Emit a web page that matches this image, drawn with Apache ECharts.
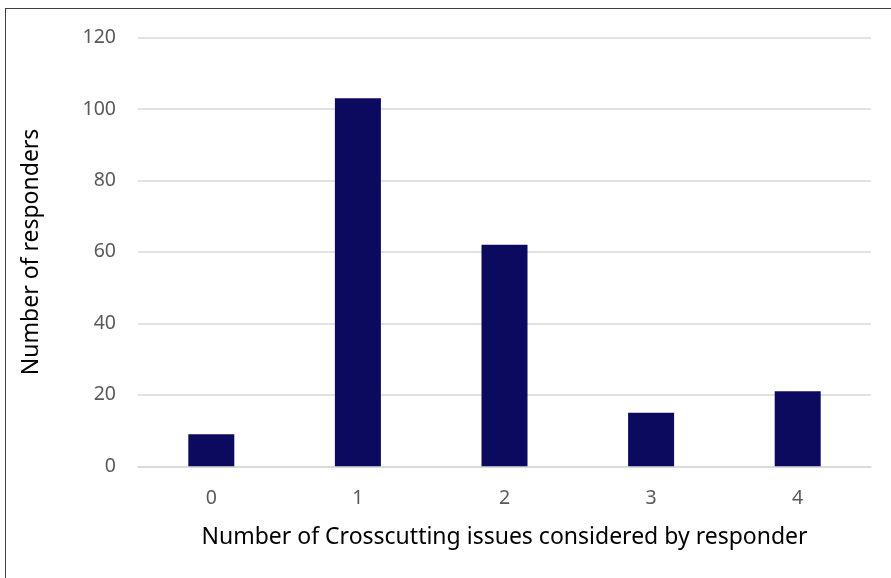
<!DOCTYPE html>
<html>
<head>
<meta charset="utf-8">
<script src="https://cdn.jsdelivr.net/npm/echarts@6/dist/echarts.min.js"></script>
<style>
  html, body { margin: 0; padding: 0; background: #fff; }
  #frame {
    position: absolute; left: 5px; top: 8px; width: 886px; height: 570px;
    border-left: 1px solid #404040; border-top: 1px solid #404040;
  }
  #chart { position: absolute; left: 0; top: 0; width: 891px; height: 578px; }
</style>
</head>
<body>
<div id="frame"></div>
<div id="chart"></div>
<script>
// issues considered -> responders
const categories = ["0", "1", "2", "3", "4"];
const responders = [9, 103, 62, 15, 21];
const yTicks = { min: 0, max: 120, interval: 20 };

const chart = echarts.init(document.getElementById("chart"));

chart.setOption({
  animation: false,
  grid: { left: 138, right: 20, top: 37.5, bottom: 111.7 },
  xAxis: {
    type: "category",
    data: categories,
    name: "Number of Crosscutting issues considered by responder",
    nameLocation: "middle",
    nameGap: 60,
    nameTextStyle: { color: "#000", fontSize: 23, fontFamily: "Noto Sans" },
    axisLine: { lineStyle: { color: "#d9d9d9", width: 1.5 } },
    axisTick: { show: false },
    axisLabel: { color: "#595959", fontSize: 19.5, fontFamily: "Noto Sans", margin: 22 },
  },
  yAxis: {
    type: "value",
    min: yTicks.min,
    max: yTicks.max,
    interval: yTicks.interval,
    name: "Number of responders",
    nameLocation: "middle",
    nameGap: 95,
    nameTextStyle: { color: "#000", fontSize: 23, fontFamily: "Noto Sans" },
    axisLine: { show: false },
    axisTick: { show: false },
    splitLine: { lineStyle: { color: "#d9d9d9", width: 1.5 } },
    axisLabel: { color: "#595959", fontSize: 19.5, fontFamily: "Noto Sans", margin: 22 },
  },
  series: [
    {
      type: "bar",
      data: responders,
      barWidth: 46,
      itemStyle: { color: "#0c0a5e" },
    },
  ],
});
</script>
</body>
</html>
